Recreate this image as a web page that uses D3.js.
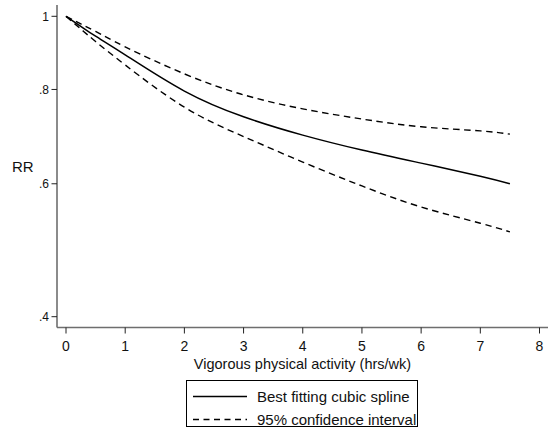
<!DOCTYPE html>
<html>
<head>
<meta charset="utf-8">
<script src="https://cdn.jsdelivr.net/npm/d3@7"></script>
<style>
  html, body { margin: 0; padding: 0; background: #fff; }
  svg { display: block; font-family: Arial, "Liberation Sans", Helvetica, sans-serif; }
</style>
</head>
<body>
<svg id="chart" width="548" height="432"></svg>
<script>
// Vigorous physical activity (hrs/wk) and relative risk estimates
const hours = [0, 0.25, 0.5, 1, 2, 3, 4, 5, 6, 7, 7.5];
const rrFit = [1, 0.970, 0.941, 0.889, 0.796, 0.736, 0.696, 0.665, 0.639, 0.614, 0.600];
const rrUpper = [1, 0.977, 0.955, 0.911, 0.839, 0.787, 0.754, 0.731, 0.714, 0.705, 0.698];
const rrLower = [1, 0.962, 0.926, 0.862, 0.758, 0.693, 0.641, 0.596, 0.559, 0.532, 0.518];

const xTicks = [0, 1, 2, 3, 4, 5, 6, 7, 8];
const yTicks = [0.4, 0.6, 0.8, 1];
const yTickLabels = [".4", ".6", ".8", "1"];

const legendLabels = ["Best fitting cubic spline", "95% confidence interval"];

const svg = d3.select("#chart");
const axisColor = "#6e6e6e";

const x = d3.scaleLinear().domain([0, 8]).range([66, 539.5]);
const y = d3.scaleLog().domain([0.4, 1]).range([316.7, 16.3]);

const axisLeftX = 57, axisBottomY = 327.5;

// axes frame lines
svg.append("line")
  .attr("x1", axisLeftX).attr("x2", axisLeftX)
  .attr("y1", 5).attr("y2", axisBottomY)
  .attr("stroke", axisColor).attr("stroke-width", 1.6);
svg.append("line")
  .attr("x1", axisLeftX).attr("x2", 548)
  .attr("y1", axisBottomY).attr("y2", axisBottomY)
  .attr("stroke", axisColor).attr("stroke-width", 1.6);

// y ticks
const yAxis = svg.append("g");
yTicks.forEach((t, i) => {
  yAxis.append("line")
    .attr("x1", axisLeftX - 5.5).attr("x2", axisLeftX)
    .attr("y1", y(t)).attr("y2", y(t))
    .attr("stroke", "#222").attr("stroke-width", 1);
  yAxis.append("text")
    .attr("x", axisLeftX - 8).attr("y", y(t))
    .attr("dy", "0.35em")
    .attr("text-anchor", "end")
    .attr("font-size", 12)
    .attr("fill", "#111")
    .text(yTickLabels[i]);
});

// x ticks
const xAxis = svg.append("g");
xTicks.forEach(t => {
  xAxis.append("line")
    .attr("x1", x(t)).attr("x2", x(t))
    .attr("y1", axisBottomY).attr("y2", axisBottomY + 6)
    .attr("stroke", "#222").attr("stroke-width", 1);
  xAxis.append("text")
    .attr("x", x(t)).attr("y", 351)
    .attr("text-anchor", "middle")
    .attr("font-size", 14)
    .attr("fill", "#111")
    .text(t);
});

// axis titles
svg.append("text")
  .attr("x", 302.5).attr("y", 369)
  .attr("text-anchor", "middle")
  .attr("font-size", 14.5)
  .attr("fill", "#111")
  .text("Vigorous physical activity (hrs/wk)");
svg.append("text")
  .attr("x", 12).attr("y", 172)
  .attr("font-size", 15)
  .attr("fill", "#111")
  .text("RR");

// curves
const line = (vals) => d3.line()
  .x((d, i) => x(hours[i]))
  .y(d => y(d))
  .curve(d3.curveNatural)(vals);

svg.append("path").attr("d", line(rrUpper))
  .attr("fill", "none").attr("stroke", "#000").attr("stroke-width", 1.4)
  .attr("stroke-dasharray", "6.5,4.5");
svg.append("path").attr("d", line(rrLower))
  .attr("fill", "none").attr("stroke", "#000").attr("stroke-width", 1.4)
  .attr("stroke-dasharray", "6.5,4.5");
svg.append("path").attr("d", line(rrFit))
  .attr("fill", "none").attr("stroke", "#000").attr("stroke-width", 1.5);

// legend
const lg = svg.append("g");
lg.append("rect")
  .attr("x", 186.5).attr("y", 380.5)
  .attr("width", 231).attr("height", 46)
  .attr("fill", "#fff").attr("stroke", "#000").attr("stroke-width", 1);
const rowsY = [396.5, 419.5];
legendLabels.forEach((lab, i) => {
  lg.append("line")
    .attr("x1", 193).attr("x2", 247)
    .attr("y1", rowsY[i]).attr("y2", rowsY[i])
    .attr("stroke", "#000").attr("stroke-width", 1.4)
    .attr("stroke-dasharray", i === 1 ? "6,4.5" : null);
  lg.append("text")
    .attr("x", 257).attr("y", rowsY[i])
    .attr("dy", "0.35em")
    .attr("font-size", 15)
    .attr("fill", "#111")
    .text(lab);
});
</script>
</body>
</html>
